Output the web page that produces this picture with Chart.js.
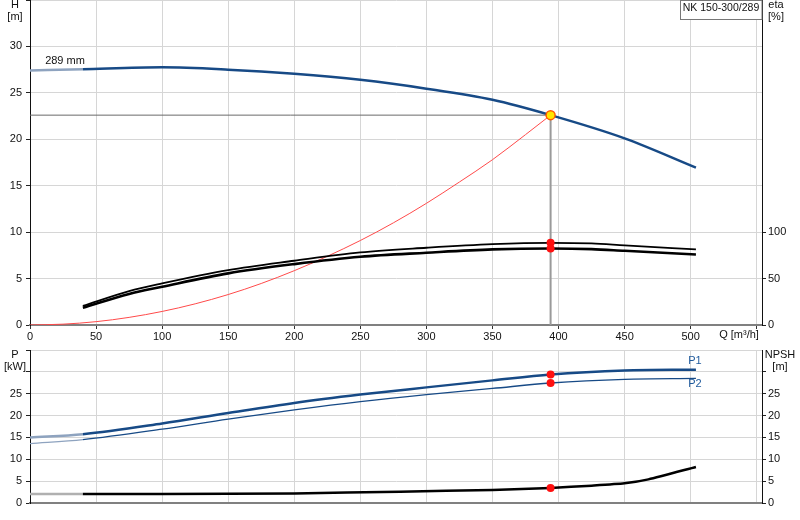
<!DOCTYPE html>
<html>
<head>
<meta charset="utf-8">
<title>NK 150-300/289</title>
<script src="https://cdn.jsdelivr.net/npm/chart.js@4.4.1/dist/chart.umd.min.js"></script>
<style>
  html, body { margin: 0; padding: 0; background: #fff; }
  #wrap { position: relative; width: 800px; height: 520px; overflow: hidden; }
  #topChart { position: absolute; left: 0; top: 0; }
  #bottomChart { position: absolute; left: 0; top: 344px; }
</style>
</head>
<body>
<div id="wrap">
  <canvas id="topChart" width="800" height="344"></canvas>
  <canvas id="bottomChart" width="800" height="176"></canvas>
</div>
<script>
// head curve, 289 mm impeller
const headQ = [0, 40, 100, 150, 200, 250, 300, 350, 394, 450, 504];
const headH = [27.4, 27.55, 27.75, 27.5, 27.05, 26.4, 25.45, 24.25, 22.6, 20.1, 16.95];

// system curve up to the duty point
const sysQ = [0, 25, 50, 75, 100, 125, 150, 175, 200, 225, 250, 275, 300, 325, 350, 375, 394];
const sysH = [0, 0.09, 0.36, 0.82, 1.46, 2.28, 3.28, 4.47, 5.85, 7.4, 9.1, 11.0, 13.1, 15.4, 17.8, 20.5, 22.6];

// efficiency curves [%]
const etaQ = [40, 75, 100, 150, 200, 250, 300, 350, 394, 425, 450, 504];
const eta1 = [20.5, 36.5, 44.8, 59.1, 69.2, 78.2, 83.2, 87.1, 88.5, 87.8, 85.7, 81.4];
const eta2 = [18.5, 33.5, 41.2, 55.6, 65.6, 73.5, 77.8, 81.4, 82.4, 81.7, 79.9, 76.0];

// power curves [kW]
const powerQ = [0, 40, 100, 150, 200, 250, 300, 350, 394, 450, 504];
const p1 = [15.0, 15.75, 18.2, 20.6, 22.9, 24.8, 26.45, 28.05, 29.4, 30.3, 30.5];
const p2 = [13.6, 14.5, 16.9, 19.2, 21.3, 23.2, 24.8, 26.2, 27.45, 28.3, 28.5];

// NPSH [m]
const npshQ = [0, 40, 100, 200, 280, 350, 394, 425, 450, 468, 504];
const npsh = [2.06, 2.06, 2.06, 2.2, 2.6, 3.0, 3.45, 3.97, 4.5, 5.4, 8.25];

// duty point
const dutyQ = 394;
const dutyH = 22.6;
const dutyEta1 = 88.5;
const dutyEta2 = 82.4;
const dutyP1 = 29.4;
const dutyP2 = 27.45;
const dutyNpsh = 3.45;

const qMax = 554;
const extrapQ = 40;

function pts(xs, ys) {
  return xs.map((q, i) => ({ x: q, y: ys[i] }));
}

Chart.defaults.font.family = '"Liberation Sans", Arial, sans-serif';
Chart.defaults.font.size = 11;
Chart.defaults.color = '#111';

const gridColor = '#d6d6d6';
const blue = '#174a86';

function fixSize(w, h) {
  return s => {
    if (w !== null) s.width = w;
    if (h !== null) s.height = h;
    s.paddingTop = 0;
    s.paddingBottom = 0;
    s.paddingLeft = 0;
    s.paddingRight = 0;
  };
}

function lightStart(color) {
  return { borderColor: c => c.p1.parsed.x <= extrapQ ? color : undefined };
}

const line = (data, color, width, axis, extra) => Object.assign({
  data: data,
  borderColor: color,
  borderWidth: width,
  pointRadius: 0,
  fill: false,
  tension: 0,
  yAxisID: axis
}, extra || {});

function text(ctx, str, x, y, color) {
  ctx.fillStyle = color || '#111';
  ctx.fillText(str, x, y);
}

const topNotes = {
  id: 'topNotes',
  afterDraw(chart) {
    const { ctx, chartArea: a } = chart;
    ctx.save();
    ctx.font = '11px "Liberation Sans", Arial, sans-serif';
    ctx.textAlign = 'center';
    ctx.textBaseline = 'middle';
    text(ctx, 'H', a.left / 2, 5);
    text(ctx, '[m]', a.left / 2, 17);
    text(ctx, 'eta', a.right + 14, 5);
    text(ctx, '[%]', a.right + 14, 17);
    text(ctx, '289 mm', 65, 61);
    text(ctx, 'Q [m\u00b3/h]', 739, a.bottom + 10);
    // model box
    ctx.strokeStyle = '#777';
    ctx.lineWidth = 1;
    ctx.fillStyle = '#fff';
    ctx.fillRect(680.5, 0.5, a.right - 680.5, 19);
    ctx.strokeRect(680.5, 0.5, a.right - 680.5, 19);
    ctx.font = '10.5px "Liberation Sans", Arial, sans-serif';
    text(ctx, 'NK 150-300/289', (680 + a.right) / 2, 8);
    ctx.restore();
  }
};

const bottomNotes = {
  id: 'bottomNotes',
  afterDraw(chart) {
    const { ctx, chartArea: a, scales } = chart;
    const endX = scales.x.getPixelForValue(powerQ[powerQ.length - 1]);
    ctx.save();
    ctx.font = '11px "Liberation Sans", Arial, sans-serif';
    ctx.textAlign = 'center';
    ctx.textBaseline = 'middle';
    text(ctx, 'P', a.left / 2, a.top + 5);
    text(ctx, '[kW]', a.left / 2, a.top + 17);
    text(ctx, 'NPSH', a.right + 18, a.top + 5);
    text(ctx, '[m]', a.right + 18, a.top + 17);
    text(ctx, 'P1', endX - 1, scales.y.getPixelForValue(p1[p1.length - 1]) - 9, '#1f5a9c');
    text(ctx, 'P2', endX - 1, scales.y.getPixelForValue(p2[p2.length - 1]) + 6, '#1f5a9c');
    ctx.restore();
  }
};

const xScale = (showLabels, h) => ({
  type: 'linear',
  min: 0,
  max: qMax,
  afterFit: fixSize(null, h),
  ticks: {
    display: showLabels,
    stepSize: 50,
    includeBounds: false,
    padding: 1,
    maxRotation: 0,
    autoSkip: false,
    callback: v => v > 500 ? '' : v
  },
  grid: { color: gridColor, tickColor: '#333', tickLength: showLabels ? 4 : 0 },
  border: { color: '#808080', width: 2 }
});

const yScale = (pos, max, step, w, pad, maxLabel, gridOn, showUpTo) => ({
  type: 'linear',
  position: pos,
  min: 0,
  max: max,
  afterFit: fixSize(w, null),
  afterBuildTicks: s => { s.ticks = s.ticks.filter(t => t.value <= showUpTo); },
  ticks: {
    stepSize: step,
    padding: pad,
    autoSkip: false,
    callback: v => v > maxLabel ? '' : v
  },
  grid: { drawOnChartArea: gridOn, color: gridColor, tickColor: '#222', tickLength: 4 },
  border: { color: '#111', width: 1 }
});

new Chart(document.getElementById('topChart'), {
  type: 'line',
  data: {
    datasets: [
      line([{ x: dutyQ, y: dutyH }], '#ff5a00', 1.5, 'y', {
        pointRadius: 4.5, pointBackgroundColor: '#ffe600', pointBorderColor: '#ff5a00', pointBorderWidth: 1.5, showLine: false
      }),
      line([{ x: dutyQ, y: dutyEta1 }, { x: dutyQ, y: dutyEta2 }], '#ff1010', 0, 'y2', {
        pointRadius: 4, pointBackgroundColor: '#ff1010', pointBorderWidth: 0, showLine: false
      }),
      line(pts(headQ, headH), blue, 2.5, 'y', { cubicInterpolationMode: 'monotone', segment: lightStart('#8ea3bf') }),
      line(pts(etaQ, eta1), '#000', 1.8, 'y2', { cubicInterpolationMode: 'monotone' }),
      line(pts(etaQ, eta2), '#000', 2.6, 'y2', { cubicInterpolationMode: 'monotone' }),
      line(pts(sysQ, sysH), '#ff4a4a', 1, 'y', { cubicInterpolationMode: 'monotone' }),
      line([{ x: 0, y: dutyH }, { x: dutyQ, y: dutyH }], '#6a6a6a', 1, 'y'),
      line([{ x: dutyQ, y: 0 }, { x: dutyQ, y: dutyH }], '#9a9a9a', 2, 'y')
    ]
  },
  options: {
    responsive: false,
    animation: false,
    layout: { padding: 0, autoPadding: false },
    plugins: { legend: { display: false }, tooltip: { enabled: false } },
    scales: {
      x: xScale(true, 19),
      y: yScale('left', 35, 5, 30, 4, 30, true, 35),
      y2: yScale('right', 350, 50, 38, 2, 100, false, 100)
    }
  },
  plugins: [topNotes]
});

new Chart(document.getElementById('bottomChart'), {
  type: 'line',
  data: {
    datasets: [
      line([{ x: dutyQ, y: dutyP1 }, { x: dutyQ, y: dutyP2 }], '#ff1010', 0, 'y', {
        pointRadius: 4, pointBackgroundColor: '#ff1010', pointBorderWidth: 0, showLine: false
      }),
      line([{ x: dutyQ, y: dutyNpsh }], '#ff1010', 0, 'y2', {
        pointRadius: 4, pointBackgroundColor: '#ff1010', pointBorderWidth: 0, showLine: false
      }),
      line(pts(powerQ, p1), blue, 2.5, 'y', { cubicInterpolationMode: 'monotone', segment: lightStart('#8ea3bf') }),
      line(pts(powerQ, p2), blue, 1.3, 'y', { cubicInterpolationMode: 'monotone', segment: lightStart('#8ea3bf') }),
      line(pts(npshQ, npsh), '#000', 2.5, 'y2', { tension: 0.2, segment: lightStart('#b0b0b0') })
    ]
  },
  options: {
    responsive: false,
    animation: false,
    layout: { padding: { top: 6, left: 0, right: 0, bottom: 0 }, autoPadding: false },
    plugins: { legend: { display: false }, tooltip: { enabled: false } },
    scales: {
      x: xScale(false, 17),
      y: yScale('left', 35, 5, 30, 4, 25, true, 35),
      y2: yScale('right', 35, 5, 38, 2, 25, false, 30)
    }
  },
  plugins: [bottomNotes]
});
</script>
</body>
</html>
